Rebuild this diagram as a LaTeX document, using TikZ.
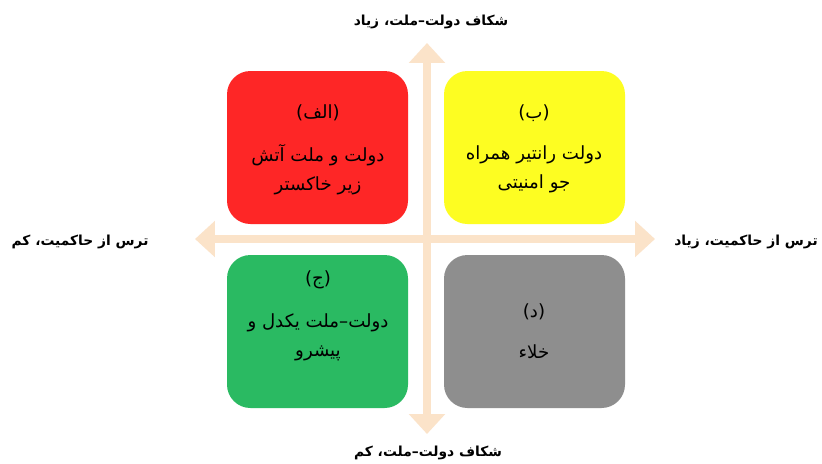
\documentclass[tikz,border=0pt]{standalone}
\usepackage{fontspec}
\usetikzlibrary{arrows.meta}
\TeXXeTstate=1
\newfontfamily\arabicfont[Script=Arabic]{DejaVu Sans}
\definecolor{peach}{HTML}{FBE3C9}
\definecolor{boxred}{HTML}{FE2626}
\definecolor{boxyellow}{HTML}{FDFD22}
\definecolor{boxgreen}{HTML}{2ABA62}
\definecolor{boxgray}{HTML}{8E8E8E}
\tikzset{
  quad/.style={rounded corners=20pt, inner sep=0pt},
  qtext/.style={font=\arabicfont\fontsize{15.5}{25}\selectfont, align=center, text=black},
  axlabel/.style={font=\arabicfont\bfseries\fontsize{11.8}{14}\selectfont, text=black},
  axarrow/.style={draw=peach, line width=7pt, {Triangle[width=30pt,length=17pt]}-{Triangle[width=30pt,length=17pt]}}
}
\begin{document}
\begin{tikzpicture}[x=0.03cm,y=-0.03cm]
\useasboundingbox (0,0) rectangle (822,463);
\fill[white] (0,0) rectangle (822,463);
% axes
\coordinate (top) at (427,43);
\coordinate (bot) at (427,434);
\coordinate (lft) at (195,239);
\coordinate (rgt) at (655,239);
\draw[axarrow] (bot) -- (top);
\draw[axarrow] (lft) -- (rgt);
% boxes
\fill[boxred,quad] (227,71) rectangle (408,224);
\fill[boxyellow,quad] (444,71) rectangle (625,224);
\fill[boxgreen,quad] (227,255) rectangle (408,408);
\fill[boxgray,quad] (444,255) rectangle (625,408);
% box texts
\node[qtext] (a1) at (318,113) {\beginR(الف)\endR};
\node[qtext] (a2) at (318,170) {\beginR دولت و ملت آتش\endR\\\beginR زیر خاکستر\endR};
\node[qtext] (b1) at (534,113) {\beginR(ب)\endR};
\node[qtext] (b2) at (534,169) {\beginR دولت رانتیر همراه\endR\\\beginR جو امنیتی\endR};
\node[qtext] (c1) at (318,280) {\beginR(ج)\endR};
\node[qtext] (c2) at (318,337) {\beginR دولت–ملت یکدل و\endR\\\beginR پیشرو\endR};
\node[qtext] (d1) at (534,312) {\beginR(د)\endR};
\node[qtext] (d2) at (534,352) {\beginR خلاء\endR};
% axis labels
\node[axlabel] (lt) at (431,22) {\beginR شکاف دولت–ملت، زیاد\endR};
\node[axlabel] (lb) at (428,453) {\beginR شکاف دولت–ملت، کم\endR};
\node[axlabel] (ll) at (80,242) {\beginR ترس از حاکمیت، کم\endR};
\node[axlabel] (lr) at (746,242) {\beginR ترس از حاکمیت، زیاد\endR};
\end{tikzpicture}
\end{document}
